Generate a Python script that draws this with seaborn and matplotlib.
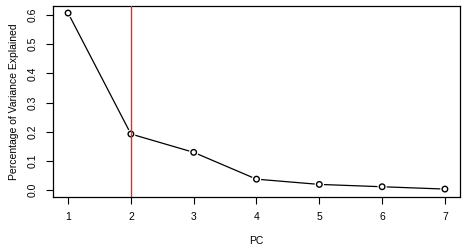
import pandas as pd
import matplotlib
matplotlib.use("Agg")
import matplotlib.pyplot as plt
import seaborn as sns

# Scree plot data
pcs = [1, 2, 3, 4, 5, 6, 7]
pve = [0.607, 0.192, 0.129, 0.037, 0.019, 0.011, 0.003]
y_ticks = [0.0, 0.1, 0.2, 0.3, 0.4, 0.5, 0.6]
cut_pc = 2

df = pd.DataFrame({"PC": pcs, "PVE": pve})

sns.set_style("white")
plt.rcParams["font.family"] = ["Liberation Sans", "DejaVu Sans"]
plt.rcParams["font.size"] = 7.5
plt.rcParams["text.color"] = "black"
plt.rcParams["axes.labelcolor"] = "black"
plt.rcParams["xtick.color"] = "black"
plt.rcParams["ytick.color"] = "black"

fig = plt.figure(figsize=(4.67, 2.5), dpi=100)
ax = fig.add_axes([0.1135, 0.212, 0.8715, 0.764])

sns.lineplot(data=df, x="PC", y="PVE", color="black", linewidth=0.9, ax=ax, zorder=2)
# white discs give the gap around each point like R's type="b"
sns.scatterplot(data=df, x="PC", y="PVE", s=45, color="white", edgecolor="none", ax=ax, zorder=3)
sns.scatterplot(data=df, x="PC", y="PVE", s=16, facecolor="none", edgecolor="black",
                linewidth=1.0, ax=ax, zorder=4)
ax.axvline(cut_pc, color="#ff2020", linewidth=1.0, zorder=5)

ax.set_xlim(0.76, 7.24)
ax.set_ylim(-0.0242, 0.6312)
ax.set_xticks(pcs)
ax.set_xticklabels([str(p) for p in pcs])
ax.set_yticks(y_ticks)
ax.set_yticklabels([f"{v:.1f}" for v in y_ticks], rotation=90, va="center")
ax.tick_params(axis="both", direction="out", length=5, width=0.8, colors="black",
               left=True, bottom=True, labelsize=7.5, pad=6)
for s in ax.spines.values():
    s.set_color("black")
    s.set_linewidth(0.9)
ax.set_xlabel("PC", fontsize=7.5, labelpad=10)
ax.set_ylabel("Percentage of Variance Explained", fontsize=7.5, labelpad=6)

fig.savefig("out.png", dpi=100)
